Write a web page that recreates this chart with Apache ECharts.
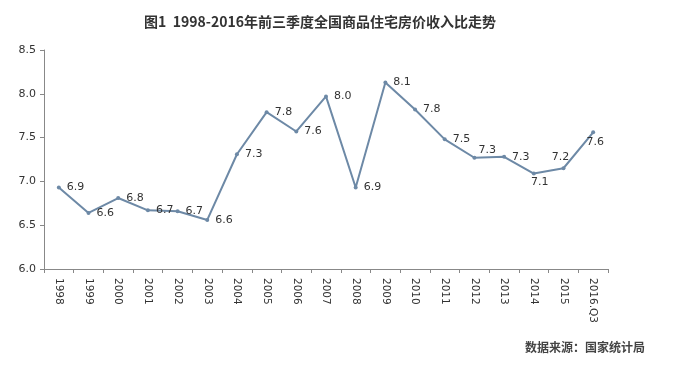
<!DOCTYPE html>
<html><head><meta charset="utf-8">
<script src="https://cdn.jsdelivr.net/npm/echarts@6/dist/echarts.min.js"></script>
<style>html,body{margin:0;padding:0;background:#fff}#c{width:678px;height:368px}</style>
</head><body><div id="c"></div>
<script>
var categories = ['1998','1999','2000','2001','2002','2003','2004','2005','2006','2007','2008','2009','2010','2011','2012','2013','2014','2015','2016.Q3'];
var ratios = [6.93,6.64,6.81,6.67,6.66,6.56,7.31,7.79,7.57,7.97,6.93,8.13,7.82,7.48,7.27,7.28,7.09,7.15,7.56];
var yTicks = {min:6.0, max:8.5, interval:0.5};
var titleText = '图1  1998-2016年前三季度全国商品住宅房价收入比走势';
var sourceText = '数据来源：国家统计局';

// label placement overrides (style only)
var labelOverride = {
  '2012': {position:'right', offset:[-4,-8]},
  '2014': {position:'bottom', offset:[6,-5]},
  '2015': {position:'top', offset:[-3,2]},
  '2016.Q3': {position:'bottom', offset:[2,-4]}
};
var seriesData = categories.map(function(c,i){
  var d = {value: ratios[i]};
  if (labelOverride[c]) d.label = labelOverride[c];
  return d;
});

var chart = echarts.init(document.getElementById('c'), null, {renderer:'canvas'});
chart.setOption({
  backgroundColor:'#fff',
  animation:false,
  title:{text:titleText, left:315, top:10, textAlign:'center',
    textStyle:{fontSize:14, fontWeight:'bold', color:'#333', fontFamily:'Noto Sans CJK SC'}},
  graphic:[{type:'text', right:33, top:341, style:{text:sourceText, fill:'#444',
    font:'bold 12px "Noto Sans CJK SC"'}}],
  grid:{left:44, right:70, top:50, bottom:99},
  xAxis:{type:'category', data:categories, boundaryGap:true,
    axisLine:{lineStyle:{color:'#888'}},
    axisTick:{show:true, alignWithLabel:false, length:4, lineStyle:{color:'#888'}},
    axisLabel:{rotate:-90, color:'#333', fontSize:10.5, margin:9, fontFamily:'DejaVu Sans', interval:0}
  },
  yAxis:{type:'value', min:yTicks.min, max:yTicks.max, interval:yTicks.interval,
    axisLine:{show:true, lineStyle:{color:'#888'}},
    axisTick:{show:true, length:4, lineStyle:{color:'#888'}},
    splitLine:{show:false},
    axisLabel:{color:'#333', fontSize:11, margin:8, fontFamily:'DejaVu Sans',
      formatter:function(v){return v.toFixed(1);}}
  },
  series:[{type:'line', data:seriesData, symbol:'circle', symbolSize:4,
    lineStyle:{color:'#6d89a6', width:2}, itemStyle:{color:'#6d89a6'},
    label:{show:true, position:'right', distance:6, color:'#333', fontSize:11, fontFamily:'DejaVu Sans',
      formatter:function(p){return p.value.toFixed(1);}}
  }]
});
</script></body></html>
